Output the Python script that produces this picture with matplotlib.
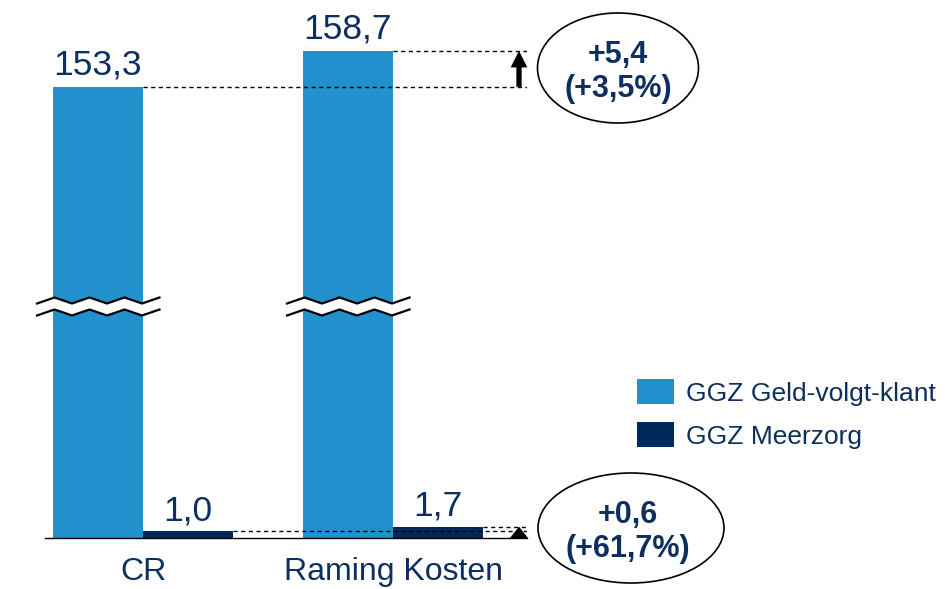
import numpy as np
import matplotlib
matplotlib.use('Agg')
import matplotlib.pyplot as plt
import matplotlib.transforms as mtransforms
from matplotlib.patches import Ellipse

# data
categories = ['CR', 'Raming Kosten']
geld_volgt_klant = [153.3, 158.7]
meerzorg = [1.0, 1.7]
series_names = ['GGZ Geld-volgt-klant', 'GGZ Meerzorg']
delta_labels = ['+5,4\n(+3,5%)', '+0,6\n(+61,7%)']

LIGHT = '#2391cd'
DARK = '#00295b'
NAVY = '#0c2f60'

plt.rcParams['font.family'] = ['Liberation Sans', 'DejaVu Sans']

# broken y axis: the range between BRK_LO and BRK_HI is squeezed out
BRK_LO, BRK_HI = 34.6, 120.33
_gap = BRK_HI - BRK_LO
_data = [-1e4, BRK_LO, BRK_HI, 1e4]
_disp = [-1e4, BRK_LO, BRK_LO + 1e-3, 1e4 - _gap + 1e-3]


def fwd(v):
    return np.interp(v, _data, _disp)


def inv(v):
    return np.interp(v, _disp, _data)


fig = plt.figure(figsize=(9.52, 5.89), dpi=100)
ax = fig.add_axes([45 / 952, 51 / 589, 482 / 952, 538 / 589])
ax.set_yscale('function', functions=(fwd, inv))
ax.set_xlim(-0.392, 1.536)
ax.set_ylim(0, 166.3)

x = np.arange(len(categories))
w = 0.36
b1 = ax.bar(x - w / 2, geld_volgt_klant, w, color=LIGHT, lw=0, label=series_names[0], zorder=2)
b2 = ax.bar(x + w / 2, meerzorg, w, color=DARK, lw=0, label=series_names[1], zorder=2)

fmt = lambda v: f'{v:.1f}'.replace('.', ',')
ax.bar_label(b1, labels=[fmt(v) for v in geld_volgt_klant], padding=3.5, fontsize=25.5, color=NAVY)
ax.bar_label(b2, labels=[fmt(v) for v in meerzorg], padding=3, fontsize=25.5, color=NAVY)

# dashed reference lines to the right
xr = 1.536
for i in range(len(categories)):
    ax.hlines(geld_volgt_klant[i], x[i], xr, colors='black', lw=1.0,
              linestyles=(0, (3, 2.5)), zorder=5)
    ax.hlines(meerzorg[i], x[i] + w, xr, colors='black', lw=1.0,
              linestyles=(0, (3, 2.5)), zorder=5)

# arrows
xa = 1.504
ax.annotate('', xy=(xa, geld_volgt_klant[1]), xytext=(xa, geld_volgt_klant[0]),
            arrowprops=dict(arrowstyle='simple,head_length=12,head_width=12,tail_width=3.8',
                            mutation_scale=1, color='black', lw=0, shrinkA=0, shrinkB=0),
            zorder=6)
ax.annotate('', xy=(xa, meerzorg[1]), xytext=(xa, -0.15),
            arrowprops=dict(arrowstyle='simple,head_length=8.2,head_width=13,tail_width=0.1',
                            mutation_scale=1, color='black', lw=0, shrinkA=0, shrinkB=0),
            zorder=6, annotation_clip=False)

# zigzag break marks on the tall bars
trans = mtransforms.blended_transform_factory(ax.transData, ax.transAxes)
frac = lambda ypx: (538 - np.asarray(ypx, float)) / 538
k = np.arange(8)
ys_up = np.where(k % 2 == 0, 303.5, 297.5)
ys_lo = ys_up + 12
for xi in x:
    xs = (xi - w) - 0.064 + 0.07 * k
    ax.fill(np.r_[xs, xs[::-1]], np.r_[frac(ys_up), frac(ys_lo)[::-1]],
            color='white', lw=0, transform=trans, zorder=6, clip_on=False)
    ax.plot(xs, frac(ys_up), color='black', lw=1.6, transform=trans, zorder=7, clip_on=False)
    ax.plot(xs, frac(ys_lo), color='black', lw=1.6, transform=trans, zorder=7, clip_on=False)

# axes styling
for s in ['top', 'left', 'right']:
    ax.spines[s].set_visible(False)
ax.spines['bottom'].set_linewidth(1.0)
ax.spines['bottom'].set_color('black')
ax.set_yticks([])
ax.set_xticks(x)
ax.set_xticklabels(categories)
ax.tick_params(axis='x', length=0, pad=14, labelsize=23, labelcolor=NAVY)

# ellipses with deltas
fig.add_artist(Ellipse((618 / 952, 1 - 68 / 589), 161 / 952, 110 / 589,
                       transform=fig.transFigure, fill=False, ec='black', lw=1.2))
fig.add_artist(Ellipse((631 / 952, 1 - 528 / 589), 186 / 952, 110 / 589,
                       transform=fig.transFigure, fill=False, ec='black', lw=1.2))
fig.text(618 / 952, 1 - 72 / 589, delta_labels[0], ha='center', va='center',
         fontsize=22, fontweight='bold', color=NAVY, linespacing=1.15)
fig.text(628 / 952, 1 - 532 / 589, delta_labels[1], ha='center', va='center',
         fontsize=22, fontweight='bold', color=NAVY, linespacing=1.15)

fig.legend(handles=[b1, b2], loc='upper left', bbox_to_anchor=(637 / 952, 1 - 379 / 589),
           frameon=False, fontsize=19, labelcolor=NAVY, handlelength=1.4, handleheight=1.1,
           handletextpad=0.45, labelspacing=0.62, borderpad=0, borderaxespad=0)

fig.savefig('out.png', dpi=100)
